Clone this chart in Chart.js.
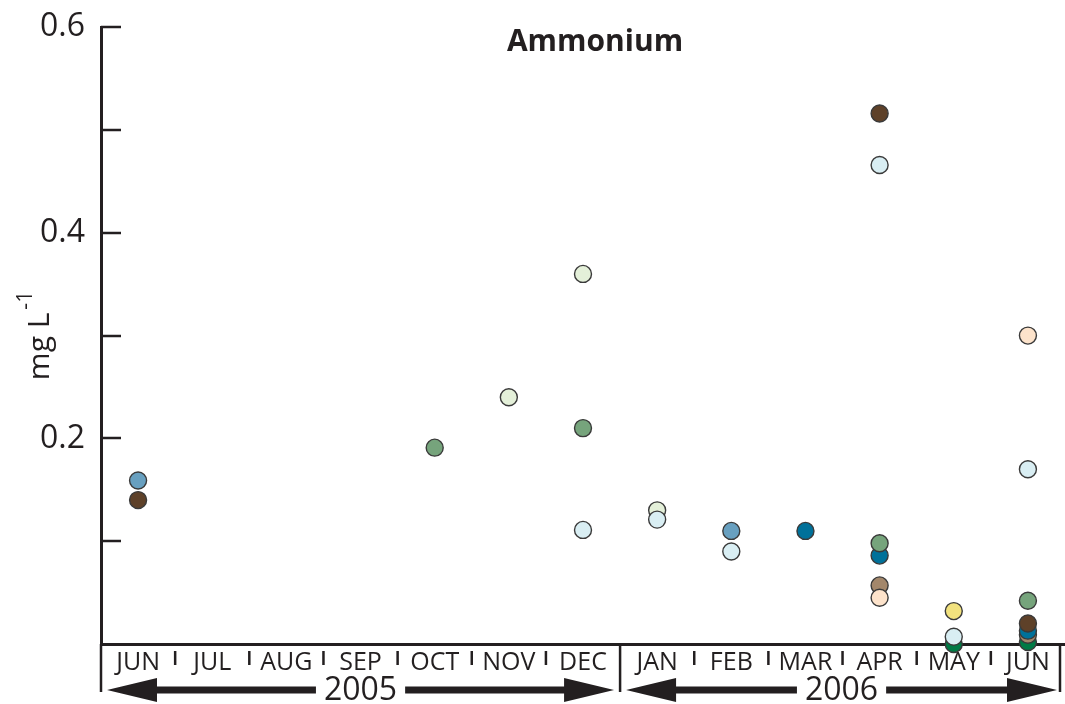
<!DOCTYPE html>
<html lang="en">
<head>
    <meta charset="UTF-8">
    <title>Ammonium</title>
    <style>
        html, body {
            margin: 0;
            padding: 0;
            overflow: hidden;
            background-color: #fff;
        }
        #chartBox {
            width: 1065px;
            height: 704px;
            position: relative;
        }
        canvas {
            display: block;
        }
    </style>
</head>
<body>
    <div id="chartBox">
        <canvas id="ammoniumChart"></canvas>
    </div>

    <script src="https://cdn.jsdelivr.net/npm/chart.js"></script>
    <script>
// months Jun 2005 .. Jun 2006
var months = ["JUN", "JUL", "AUG", "SEP", "OCT", "NOV", "DEC", "JAN", "FEB", "MAR", "APR", "MAY", "JUN"];
var yTickLabels = ["0.2", "0.4", "0.6"];

// one array per marker colour (site), null = no sample
var lightBlue  = [null, null, null, null, null, null, 0.111, 0.121, 0.090, null, 0.466, 0.007, 0.170];
var paleGreen  = [null, null, null, null, null, 0.240, 0.360, 0.130, null, null, null, null, null];
var steelBlue  = [0.159, null, null, null, null, null, null, null, 0.110, null, null, null, null];
var brown      = [0.140, null, null, null, null, null, null, null, null, null, 0.516, null, 0.020];
var midGreen   = [null, null, null, null, 0.191, null, 0.210, null, null, null, 0.098, null, 0.042];
var peach      = [null, null, null, null, null, null, null, null, null, null, 0.045, null, 0.300];
var tan        = [null, null, null, null, null, null, null, null, null, null, 0.057, null, 0.009];
var teal       = [null, null, null, null, null, null, null, null, null, 0.110, 0.086, null, 0.013];
var yellow     = [null, null, null, null, null, null, null, null, null, null, null, 0.032, null];
var darkGreen  = [null, null, null, null, null, null, null, null, null, null, null, 0.000, 0.002];

var ink = "#231f20";
var fontName = "'Open Sans', 'DejaVu Sans', sans-serif";

function series(name, data, color) {
    return {
        label: name,
        data: data,
        showLine: false,
        pointRadius: 8.5,
        pointHoverRadius: 8.5,
        pointBackgroundColor: color,
        pointBorderColor: "#3a3a3a",
        pointBorderWidth: 1.4,
        clip: false
    };
}

function drawArrow(ctx, x1, x2, y, label) {
    var head = 50, half = 12, shaft = 3.5;
    ctx.font = "32px " + fontName;
    var tw = ctx.measureText(label).width;
    var mid = (x1 + x2) / 2;
    ctx.fillStyle = ink;
    // left head + shaft
    ctx.beginPath();
    ctx.moveTo(x1, y);
    ctx.lineTo(x1 + head, y - half);
    ctx.lineTo(x1 + head, y - shaft);
    ctx.lineTo(mid - tw / 2 - 8, y - shaft);
    ctx.lineTo(mid - tw / 2 - 8, y + shaft);
    ctx.lineTo(x1 + head, y + shaft);
    ctx.lineTo(x1 + head, y + half);
    ctx.closePath();
    ctx.fill();
    // right head + shaft
    ctx.beginPath();
    ctx.moveTo(x2, y);
    ctx.lineTo(x2 - head, y - half);
    ctx.lineTo(x2 - head, y - shaft);
    ctx.lineTo(mid + tw / 2 + 8, y - shaft);
    ctx.lineTo(mid + tw / 2 + 8, y + shaft);
    ctx.lineTo(x2 - head, y + shaft);
    ctx.lineTo(x2 - head, y + half);
    ctx.closePath();
    ctx.fill();
    ctx.textAlign = "center";
    ctx.textBaseline = "middle";
    ctx.fillText(label, mid, y + 1);
}

var decorations = {
    id: "decorations",
    afterDraw: function(chart) {
        var ctx = chart.ctx;
        var area = chart.chartArea;
        var xs = chart.scales.x;
        var ys = chart.scales.y;
        var step = xs.width / months.length;
        ctx.save();
        ctx.strokeStyle = ink;
        ctx.lineWidth = 2.5;

        // inward y ticks
        for (var v = 0.1; v <= 0.6001; v += 0.1) {
            var py = Math.round(ys.getPixelForValue(v));
            ctx.beginPath();
            ctx.moveTo(area.left, py);
            ctx.lineTo(area.left + 20, py);
            ctx.stroke();
        }

        // month separators
        for (var i = 0; i <= months.length; i++) {
            var px = xs.left + i * step;
            ctx.beginPath();
            if (i === 0 || i === 7 || i === months.length) {
                if (i === months.length) px -= 5;
                ctx.moveTo(px, area.bottom);
                ctx.lineTo(px, 692);
            } else {
                ctx.moveTo(px, 651);
                ctx.lineTo(px, 665);
            }
            ctx.stroke();
        }

        // year arrows
        drawArrow(ctx, xs.left + 6, xs.left + 7 * step - 6, 690, "2005");
        drawArrow(ctx, xs.left + 7 * step + 6, xs.right - 8, 690, "2006");

        // title
        ctx.fillStyle = ink;
        ctx.font = "bold 30px " + fontName;
        ctx.textAlign = "center";
        ctx.textBaseline = "middle";
        ctx.fillText("Ammonium", 595, 42);

        // y axis title with superscript
        ctx.translate(38, 337);
        ctx.rotate(-Math.PI / 2);
        var base = "mg L";
        var sup = "-1";
        ctx.font = "30px " + fontName;
        var wBase = ctx.measureText(base).width;
        ctx.font = "21px " + fontName;
        var wSup = ctx.measureText(sup).width;
        var start = -(wBase + wSup) / 2;
        ctx.textAlign = "left";
        ctx.font = "30px " + fontName;
        ctx.fillText(base, start, 2);
        ctx.font = "21px " + fontName;
        ctx.fillText(sup, start + wBase + 3, -12);
        ctx.restore();
    }
};

var ctx = document.getElementById("ammoniumChart").getContext("2d");
var ammoniumChart = new Chart(ctx, {
    type: "line",
    data: {
        labels: months,
        datasets: [
            series("lightBlue", lightBlue, "#d9eef3"),
            series("paleGreen", paleGreen, "#e4f0d9"),
            series("steelBlue", steelBlue, "#68a0c0"),
            series("brown", brown, "#5e4129"),
            series("midGreen", midGreen, "#76a47c"),
            series("peach", peach, "#fde3cb"),
            series("teal", teal, "#00719a"),
            series("tan", tan, "#a3876b"),
            series("yellow", yellow, "#f2e27e"),
            series("darkGreen", darkGreen, "#007a45")
        ]
    },
    options: {
        responsive: true,
        maintainAspectRatio: false,
        animation: false,
        layout: { autoPadding: false, padding: { top: 24, right: 0, left: 0, bottom: 0 } },
        plugins: {
            legend: { display: false },
            tooltip: { enabled: false },
            title: { display: false }
        },
        scales: {
            x: {
                type: "category",
                offset: true,
                grid: { display: false },
                border: { display: true, color: ink, width: 3 },
                ticks: {
                    color: ink,
                    font: { family: fontName, size: 25 },
                    padding: -4,
                    maxRotation: 0,
                    autoSkip: false
                },
                afterFit: function(scale) { scale.height = 60; }
            },
            y: {
                min: 0,
                max: 0.6,
                grid: { display: false },
                border: { display: true, color: ink, width: 3 },
                ticks: {
                    stepSize: 0.1,
                    color: ink,
                    padding: 8,
                    font: { family: fontName, size: 32 },
                    callback: function(value) {
                        var s = value.toFixed(1);
                        return yTickLabels.indexOf(s) >= 0 ? s : "";
                    }
                },
                afterFit: function(scale) { scale.width = 101; }
            }
        }
    },
    plugins: [decorations]
});
    </script>
</body>
</html>
